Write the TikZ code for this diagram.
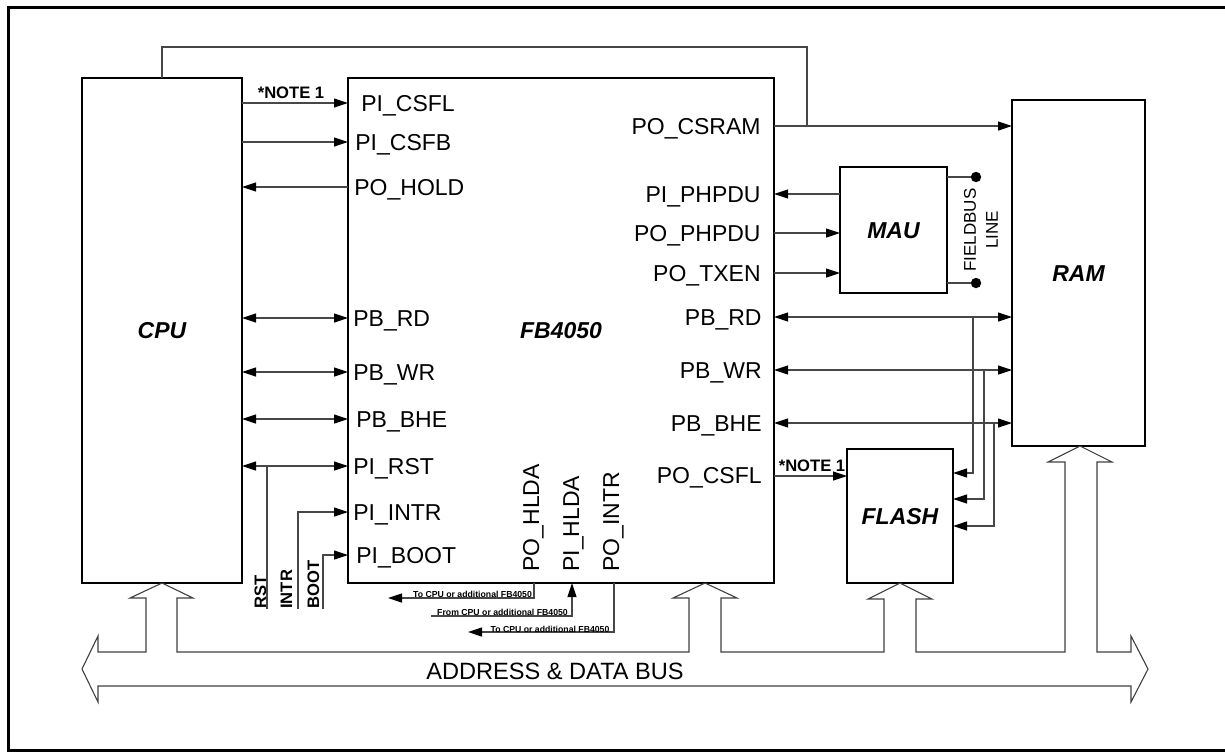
\documentclass[tikz,border=0pt]{standalone}
\usepackage{fontspec}
\setmainfont{Liberation Sans}
\usetikzlibrary{arrows.meta}
\begin{document}
\begin{tikzpicture}[x=0.5pt,y=-0.5pt,
  box/.style={draw=black,line width=1pt,inner sep=0pt,outer sep=0pt,
    font=\fontsize{11.5}{12}\selectfont\bfseries\itshape,text height=8.2pt,text depth=0pt},
  sig/.style={draw=black!72,line width=0.55pt},
  a2e/.style={-{Triangle[length=7pt,width=4.5pt,color=black]}},
  a2s/.style={{Triangle[length=7pt,width=4.5pt,color=black]}-},
  a2b/.style={{Triangle[length=7pt,width=4.5pt,color=black]}-{Triangle[length=7pt,width=4.5pt,color=black]}},
  lbl/.style={font=\fontsize{11.5}{12}\selectfont,inner sep=0pt,text height=8.2pt,text depth=0pt},
  note/.style={font=\fontsize{8.3}{9}\selectfont\bfseries,inner sep=0pt,text height=6pt,text depth=0pt},
  tinylbl/.style={font=\fontsize{4.35}{5}\selectfont\bfseries,inner sep=0pt,text height=3.1pt,text depth=0pt},
  buslbl/.style={font=\fontsize{11.8}{12}\selectfont,inner sep=0pt,text height=8.4pt,text depth=0pt},
  fieldlbl/.style={font=\fontsize{8.5}{11}\selectfont,inner sep=0pt,align=center},
  busline/.style={draw=black!75,line width=0.55pt,line join=miter}
]
\useasboundingbox (0,0) rectangle (1225,752);
% outer frame
\draw[line width=1.5pt] (8,7) rectangle (1230,750.5);

% blocks
\node[box,minimum width=80pt,minimum height=252.5pt] (cpu) at (162,330.5) {CPU};
\node[box,minimum width=213pt,minimum height=252.5pt] (fb) at (561,330.5) {FB4050};
\node[box,minimum width=66.5pt,minimum height=173pt] (ram) at (1078.5,273) {RAM};
\node[box,minimum width=53.5pt,minimum height=63pt] (mau) at (893.5,230) {MAU};
\node[box,minimum width=53pt,minimum height=67pt] (flash) at (900,516) {FLASH};

% left pin labels
\node[lbl,anchor=west] (lcsfl) at (361,103) {PI\_CSFL};
\node[lbl,anchor=west] (lcsfb) at (355,142) {PI\_CSFB};
\node[lbl,anchor=west] (lhold) at (354,187) {PO\_HOLD};
\node[lbl,anchor=west] (lrd) at (353,318) {PB\_RD};
\node[lbl,anchor=west] (lwr) at (353,372) {PB\_WR};
\node[lbl,anchor=west] (lbhe) at (356,419) {PB\_BHE};
\node[lbl,anchor=west] (lrst) at (353,466) {PI\_RST};
\node[lbl,anchor=west] (lintr) at (353,512) {PI\_INTR};
\node[lbl,anchor=west] (lboot) at (356,555) {PI\_BOOT};

% right pin labels
\node[lbl,anchor=east] (rcsram) at (761,126) {PO\_CSRAM};
\node[lbl,anchor=east] (rphi) at (761,194) {PI\_PHPDU};
\node[lbl,anchor=east] (rpho) at (761,233) {PO\_PHPDU};
\node[lbl,anchor=east] (rtxen) at (761,273) {PO\_TXEN};
\node[lbl,anchor=east] (rrd) at (762,317) {PB\_RD};
\node[lbl,anchor=east] (rwr) at (762,370) {PB\_WR};
\node[lbl,anchor=east] (rbhe) at (762,423) {PB\_BHE};
\node[lbl,anchor=east] (rcsfl) at (762,475) {PO\_CSFL};

% bottom pin labels
\node[lbl,rotate=90,anchor=west] (bhldo) at (531,572) {PO\_HLDA};
\node[lbl,rotate=90,anchor=west] (bhldi) at (571,572) {PI\_HLDA};
\node[lbl,rotate=90,anchor=west] (bintr) at (611,572) {PO\_INTR};

% notes
\node[note] (note1) at (291,92) {*NOTE 1};
\node[note] (note2) at (812,465) {*NOTE 1};

% CPU <-> FB4050
\draw[sig,a2e] (cpu.east |- lcsfl.west) -- (fb.west |- lcsfl.west);
\draw[sig,a2e] (cpu.east |- lcsfb.west) -- (fb.west |- lcsfb.west);
\draw[sig,a2s] (cpu.east |- lhold.west) -- (fb.west |- lhold.west);
\draw[sig,a2b] (cpu.east |- lrd.west) -- (fb.west |- lrd.west);
\draw[sig,a2b] (cpu.east |- lwr.west) -- (fb.west |- lwr.west);
\draw[sig,a2b] (cpu.east |- lbhe.west) -- (fb.west |- lbhe.west);
\draw[sig,a2b] (cpu.east |- lrst.west) -- (fb.west |- lrst.west);

% RST / INTR / BOOT
\coordinate (rstB) at (267,609);
\coordinate (intrB) at (298,609);
\coordinate (bootB) at (323,609);
\node[note,rotate=90,anchor=west] (trst) at (260,609) {RST};
\node[note,rotate=90,anchor=west] (tintr) at (286,609) {INTR};
\node[note,rotate=90,anchor=west] (tboot) at (313,609) {BOOT};
\draw[sig] (rstB) -- (rstB |- lrst.west);
\draw[sig,a2e] (intrB) |- (fb.west |- lintr.west);
\draw[sig,a2e] (bootB) |- (fb.west |- lboot.west);

% top wire and CSRAM
\coordinate (topR) at (807,47);
\draw[sig,a2e] (fb.east |- rcsram.east) -- (ram.west |- rcsram.east);
\draw[sig] (cpu.north) |- (topR) -- (topR |- rcsram.east);

% FB4050 <-> MAU
\draw[sig,a2e] (mau.west |- rphi.east) -- (fb.east |- rphi.east);
\draw[sig,a2e] (fb.east |- rpho.east) -- (mau.west |- rpho.east);
\draw[sig,a2e] (fb.east |- rtxen.east) -- (mau.west |- rtxen.east);

% fieldbus line
\coordinate (fbA) at (976,177);
\coordinate (fbB) at (976,283);
\draw[sig] (mau.east |- fbA) -- (fbA);
\draw[sig] (mau.east |- fbB) -- (fbB);
\fill (fbA) circle (2.6pt);
\fill (fbB) circle (2.6pt);
\node[fieldlbl,rotate=90] (fieldbus) at (981,230) {FIELDBUS\\LINE};

% FB4050 <-> RAM buses
\draw[sig,a2b] (fb.east |- rrd.east) -- (ram.west |- rrd.east);
\draw[sig,a2b] (fb.east |- rwr.east) -- (ram.west |- rwr.east);
\draw[sig,a2b] (fb.east |- rbhe.east) -- (ram.west |- rbhe.east);

% taps to FLASH
\coordinate (tapA) at (973,473);
\coordinate (tapB) at (984,499);
\coordinate (tapC) at (994,526);
\draw[sig,a2e] (tapA |- rrd.east) -- (tapA) -- (flash.east |- tapA);
\draw[sig,a2e] (tapB |- rwr.east) -- (tapB) -- (flash.east |- tapB);
\draw[sig,a2e] (tapC |- rbhe.east) -- (tapC) -- (flash.east |- tapC);

% CSFL to FLASH
\coordinate (csflY) at (0,476);
\draw[sig,a2e] (fb.east |- csflY) -- (flash.west |- csflY);

% bottom HLDA / INTR wires
\coordinate (hA) at (534,598);
\coordinate (hAend) at (388,598);
\coordinate (hBstart) at (431,616);
\coordinate (hB) at (572,616);
\coordinate (hC) at (614,632);
\coordinate (hCend) at (468,632);
\draw[sig,a2e] (fb.south -| hA) -- (hA) -- (hAend);
\draw[sig,a2e] (hBstart) -- (hB) -- (fb.south -| hB);
\draw[sig,a2e] (fb.south -| hC) -- (hC) -- (hCend);
\node[tinylbl] (thA) at (472.5,594) {To CPU or additional FB4050};
\node[tinylbl] (thB) at (502.5,612) {From CPU or additional FB4050};
\node[tinylbl] (thC) at (550,629) {To CPU or additional FB4050};

% address & data bus
\draw[busline] (82,669) -- (98,636) -- (98,652) -- (146,652) -- (146,598) -- (130,598)
  -- (cpu.south) -- (193,598) -- (177,598) -- (177,652)
  -- (689,652) -- (689,598) -- (673,598) -- (705,583) -- (737,598) -- (721,598) -- (721,652)
  -- (884,652) -- (884,599) -- (868,599) -- (flash.south) -- (932,599) -- (916,599) -- (916,652)
  -- (1065,652) -- (1065,462) -- (1048,462) -- (1080,446) -- (1112,462) -- (1097,462) -- (1097,652)
  -- (1131,652) -- (1131,636) -- (1148,669) -- (1131,702) -- (1131,686)
  -- (98,686) -- (98,702) -- cycle;
\node[buslbl] (buslabel) at (555,671) {ADDRESS \& DATA BUS};
\end{tikzpicture}
\end{document}
